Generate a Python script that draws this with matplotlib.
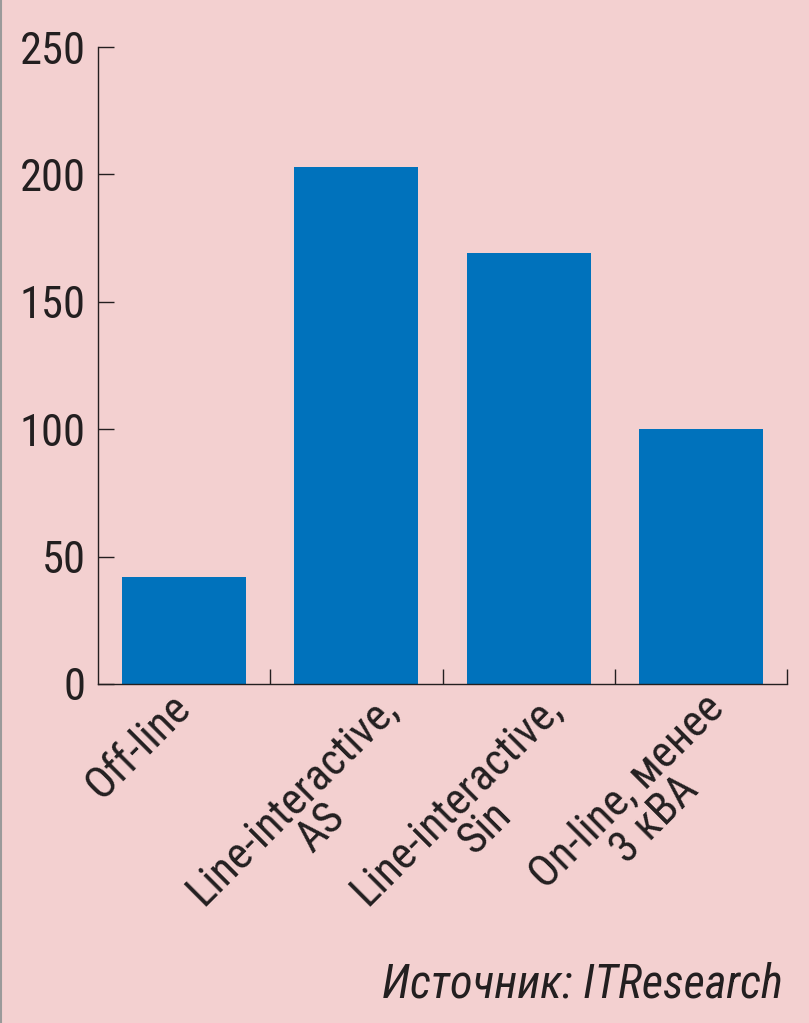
import matplotlib
matplotlib.use("Agg")
import matplotlib.pyplot as plt
from matplotlib.transforms import ScaledTranslation, blended_transform_factory
from matplotlib.lines import Line2D

categories = ["Off-line", "Line-interactive,\nAS", "Line-interactive,\nSin", "On-line, менее\n3 кВА"]
values = [42, 203, 169, 100]
yticks = [0, 50, 100, 150, 200, 250]
source = "Источник: ITResearch"

# horizontal nudge of each rotated label, in pixels
label_dx = [-15, 20, 12, 2]

plt.rcParams["font.family"] = ["Roboto Condensed", "DejaVu Sans"]
ink = "#231f20"
bg = "#f3d0d0"

fig = plt.figure(figsize=(8.09, 10.23), dpi=100, facecolor=bg)
ax = fig.add_axes([98 / 809, 1 - 684 / 1023, (787 - 98) / 809, (684 - 47) / 1023])
ax.set_facecolor(bg)

x = list(range(len(categories)))
ax.bar(x, values, width=0.72, color="#0072bc")

ax.set_xlim(-0.5, len(categories) - 0.5)
ax.set_ylim(0, 250)
ax.set_yticks(yticks)
ax.set_yticklabels([str(v) for v in yticks], fontsize=32, color=ink)
for lab in ax.get_yticklabels():
    lab.set_transform(lab.get_transform() + ScaledTranslation(0, -0.06, fig.dpi_scale_trans))

ax.set_xticks([i + 0.5 for i in x])
ax.set_xticklabels([])
ax.tick_params(axis="x", direction="in", length=11, width=1, color=ink)
ax.tick_params(axis="y", direction="in", length=11.5, width=1, color=ink, pad=9)

for s in ["top", "right"]:
    ax.spines[s].set_visible(False)
for s in ["left", "bottom"]:
    ax.spines[s].set_linewidth(1)
    ax.spines[s].set_color(ink)

trans = blended_transform_factory(ax.transData, ax.transAxes)
for i, name in enumerate(categories):
    off = ScaledTranslation(label_dx[i] / 100, -0.03, fig.dpi_scale_trans)
    ax.text(i, 0, name, transform=trans + off,
            rotation=45, rotation_mode="anchor", ha="right", va="top",
            multialignment="center", fontsize=32, color=ink, linespacing=0.92)

fig.text(783 / 809, 1 - 997 / 1023, source, ha="right", va="baseline",
         fontsize=33.5, style="italic", color=ink)
fig.add_artist(Line2D([0.5 / 809, 0.5 / 809], [0, 1], color="#9a9a9a", lw=1.5))

fig.savefig("out.png", dpi=100, facecolor=bg)
